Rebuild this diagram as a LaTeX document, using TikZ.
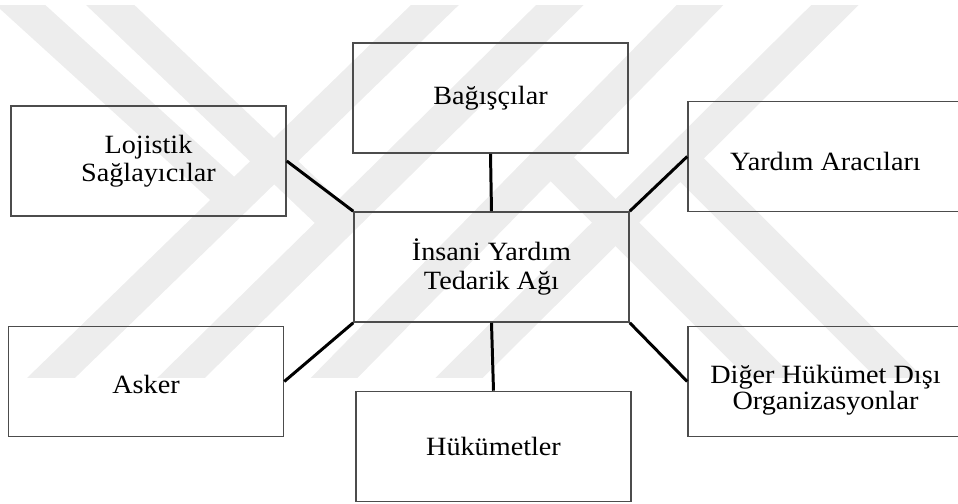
\documentclass[tikz,border=0pt]{standalone}
\usepackage{fontspec}
\setmainfont{Liberation Serif}[FakeStretch=1.07]

\begin{document}
\begin{tikzpicture}[x=0.02cm,y=-0.02cm,
 kutu/.style={draw=black!70,line width=0.9pt,minimum width=5.5cm,minimum height=2.2cm,inner sep=0pt,align=center,font=\fontsize{15}{16}\selectfont},
 cizgi/.style={line width=1.7pt},
 filigran/.style={black!7,line width=19pt}]
 \clip (0,0) rectangle (958,504);
 \begin{scope}
  \clip (0,5) rectangle (958,377);
  \draw[filigran] (460.6,-20) -- (31.4,397);
  \draw[filigran] (585.3,-20) -- (161.7,397);
  \draw[filigran] (724.6,-20) -- (315.4,397);
  \draw[filigran] (860.2,-20) -- (439.8,397);
  \draw[filigran] (-7,-20) -- (235,200);
  \draw[filigran] (84,-20) -- (339,223);
  \draw[filigran] (550,157) -- (790,397);
  \draw[filigran] (680,158) -- (919,397);
 \end{scope}
 \node[kutu] (bagiscilar) at (490.5,98) {Bağışçılar};
 \node[kutu] (lojistik) at (148.5,161) {Lojistik\\Sağlayıcılar};
 \node[kutu] (aracilar) at (825.5,156.5) {\rule{0pt}{16pt}Yardım Aracıları};
 \node[kutu] (ag) at (491.5,267) {İnsani Yardım\\Tedarik Ağı};
 \node[kutu] (asker) at (146,381.5) {\rule{0pt}{14pt}Asker};
 \node[kutu] (hukumetler) at (493.5,446.5) {Hükümetler};
 \node[kutu] (digerleri) at (825.5,381.5) {\rule{0pt}{20pt}Diğer Hükümet Dışı\\[-1pt]Organizasyonlar};
 \draw[cizgi] (bagiscilar.south) -- (ag.north);
 \draw[cizgi] (lojistik.east) -- (ag.north west);
 \draw[cizgi] (aracilar.west) -- (ag.north east);
 \draw[cizgi] (asker.east) -- (ag.south west);
 \draw[cizgi] (ag.south) -- (hukumetler.north);
 \draw[cizgi] (ag.south east) -- (digerleri.west);
\end{tikzpicture}
\end{document}
